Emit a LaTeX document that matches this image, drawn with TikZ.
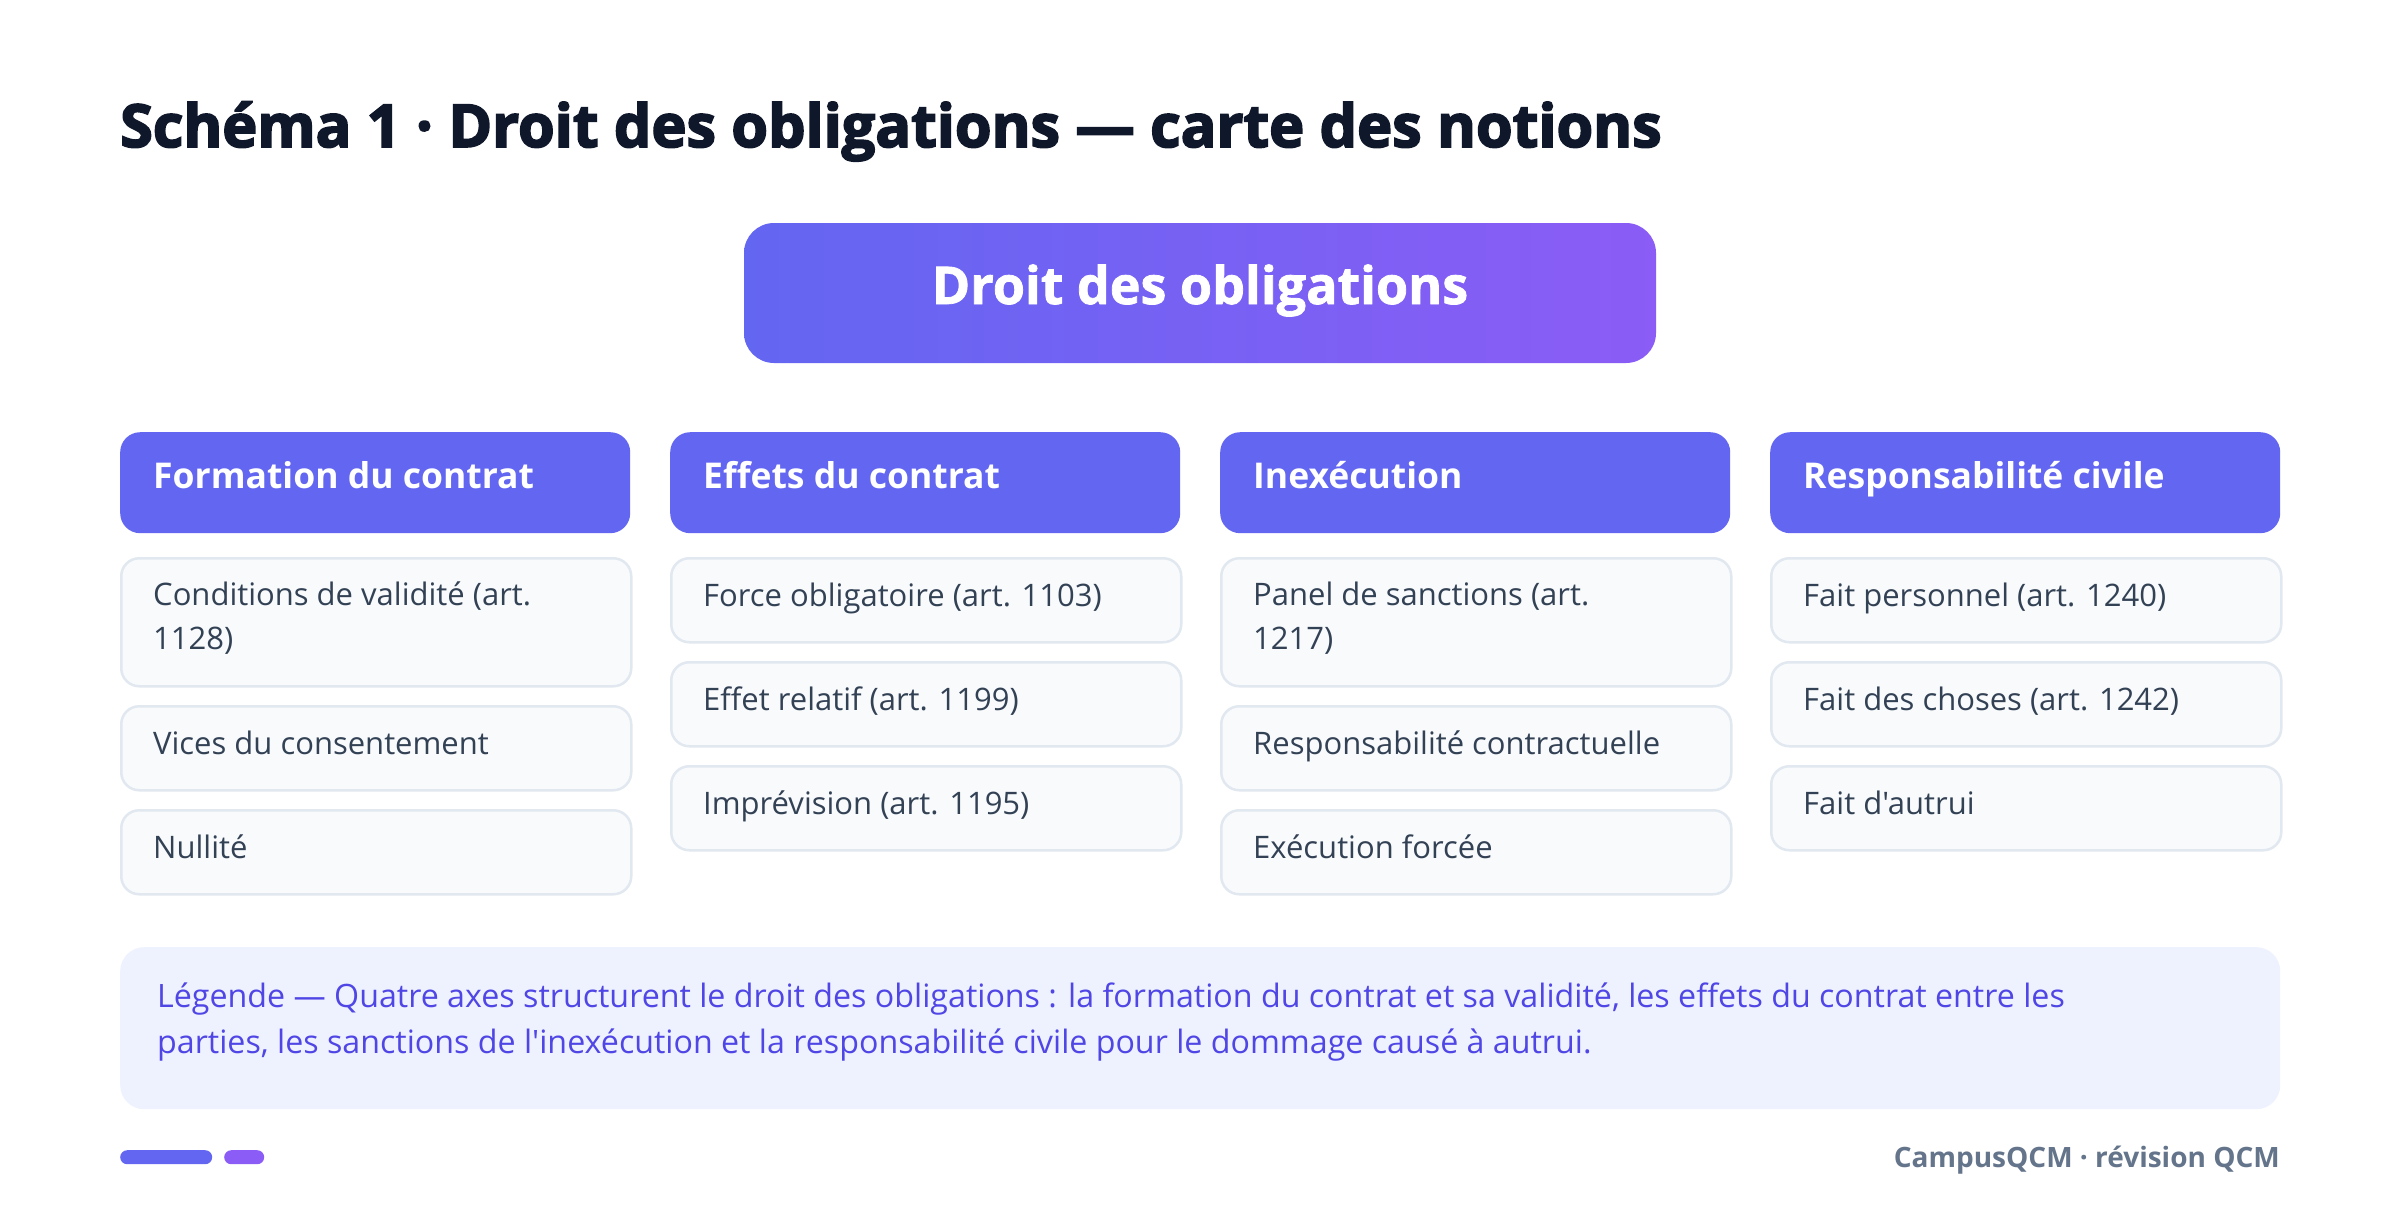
\documentclass[tikz,border=0pt]{standalone}
\usepackage{fontspec}
\newfontfamily\osans{Open Sans}
\newfontfamily\osheavy{Open Sans}[BoldFeatures={FakeBold=3}]
\newfontfamily\osmid{Open Sans}[BoldFeatures={FakeBold=1.5}]
\definecolor{titlec}{HTML}{0F172A}
\definecolor{hdrc}{HTML}{6366F1}
\definecolor{gradb}{HTML}{8B5CF6}
\definecolor{itmfill}{HTML}{F8FAFC}
\definecolor{itmborder}{HTML}{E2E8F0}
\definecolor{itmtext}{HTML}{334155}
\definecolor{legfill}{HTML}{EEF2FF}
\definecolor{legtext}{HTML}{4F46E5}
\definecolor{footc}{HTML}{64748B}
\tikzset{
  hdrbox/.style={fill=hdrc, draw=none, rounded corners=20pt, minimum width=510pt, minimum height=101pt, anchor=north west, inner sep=0pt},
  itmbox/.style={fill=itmfill, draw=itmborder, line width=2.5pt, rounded corners=18pt, minimum width=510pt, anchor=north west, inner sep=0pt},
  hdrtxt/.style={anchor=base west, inner sep=0pt, text=white, font=\osans\bfseries\fontsize{35.5}{42}\selectfont},
  itmtxt/.style={anchor=base west, inner sep=0pt, text=itmtext, align=left, font=\osans\fontsize{31}{44}\selectfont},
  single/.style={minimum height=84pt},
  double/.style={minimum height=128pt},
}
\begin{document}
\begin{tikzpicture}[x=1pt,y=-1pt]
\path[use as bounding box, fill=white] (0,0) rectangle (2400,1218);
% title
\node[anchor=base west, inner sep=0pt, text=titlec, font=\osheavy\bfseries\fontsize{59.3}{70}\selectfont] (title) at (120,147) {Schéma 1 · Droit des obligations — carte des notions};
% central box
\node[left color=hdrc, right color=gradb, rounded corners=30pt, minimum width=912pt, minimum height=140pt, inner sep=0pt] (root) at (1200,293) {};
\node[anchor=base, inner sep=0pt, text=white, font=\osmid\bfseries\fontsize{52}{60}\selectfont] (roottxt) at (1200,304) {Droit des obligations};
% column 1
\node[hdrbox] (h1) at (120,432) {};
\node[hdrtxt] (h1t) at (153,488) {Formation du contrat};
\node[itmbox,double] (a1) at (120,557) {};
\node[itmtxt] (a1t) at (153,649) {Conditions de validité (art.\\1128)};
\node[itmbox,single] (a2) at (120,705) {};
\node[itmtxt] (a2t) at (153,754) {Vices du consentement};
\node[itmbox,single] (a3) at (120,809) {};
\node[itmtxt] (a3t) at (153,858) {Nullité};
% column 2
\node[hdrbox] (h2) at (670,432) {};
\node[hdrtxt] (h2t) at (703,488) {Effets du contrat};
\node[itmbox,single] (b1) at (670,557) {};
\node[itmtxt] (b1t) at (703,606) {Force obligatoire (art. 1103)};
\node[itmbox,single] (b2) at (670,661) {};
\node[itmtxt] (b2t) at (703,710) {Effet relatif (art. 1199)};
\node[itmbox,single] (b3) at (670,765) {};
\node[itmtxt] (b3t) at (703,814) {Imprévision (art. 1195)};
% column 3
\node[hdrbox] (h3) at (1220,432) {};
\node[hdrtxt] (h3t) at (1253,488) {Inexécution};
\node[itmbox,double] (c1) at (1220,557) {};
\node[itmtxt] (c1t) at (1253,649) {Panel de sanctions (art.\\1217)};
\node[itmbox,single] (c2) at (1220,705) {};
\node[itmtxt] (c2t) at (1253,754) {Responsabilité contractuelle};
\node[itmbox,single] (c3) at (1220,809) {};
\node[itmtxt] (c3t) at (1253,858) {Exécution forcée};
% column 4
\node[hdrbox] (h4) at (1770,432) {};
\node[hdrtxt] (h4t) at (1803,488) {Responsabilité civile};
\node[itmbox,single] (d1) at (1770,557) {};
\node[itmtxt] (d1t) at (1803,606) {Fait personnel (art. 1240)};
\node[itmbox,single] (d2) at (1770,661) {};
\node[itmtxt] (d2t) at (1803,710) {Fait des choses (art. 1242)};
\node[itmbox,single] (d3) at (1770,765) {};
\node[itmtxt] (d3t) at (1803,814) {Fait d'autrui};
% legend
\node[fill=legfill, draw=none, rounded corners=24pt, minimum width=2160pt, minimum height=162pt, anchor=north west, inner sep=0pt] (leg) at (120,947) {};
\node[anchor=base west, inner sep=0pt, text=legtext, align=left, font=\osans\fontsize{32.2}{46}\selectfont] (legt) at (157,1053) {Légende — Quatre axes structurent le droit des obligations : la formation du contrat et sa validité, les effets du contrat entre les\\parties, les sanctions de l'inexécution et la responsabilité civile pour le dommage causé à autrui.};
% footer
\node[fill=hdrc, draw=none, rounded corners=7pt, minimum width=92pt, minimum height=14pt, anchor=north west, inner sep=0pt] (bar1) at (120,1150) {};
\node[fill=gradb, draw=none, rounded corners=7pt, minimum width=40pt, minimum height=14pt, anchor=north west, inner sep=0pt] (bar2) at (224,1150) {};
\node[anchor=base east, inner sep=0pt, text=footc, font=\osans\bfseries\fontsize{28}{32}\selectfont] (foot) at (2280,1167) {CampusQCM · révision QCM};
\end{tikzpicture}
\end{document}
